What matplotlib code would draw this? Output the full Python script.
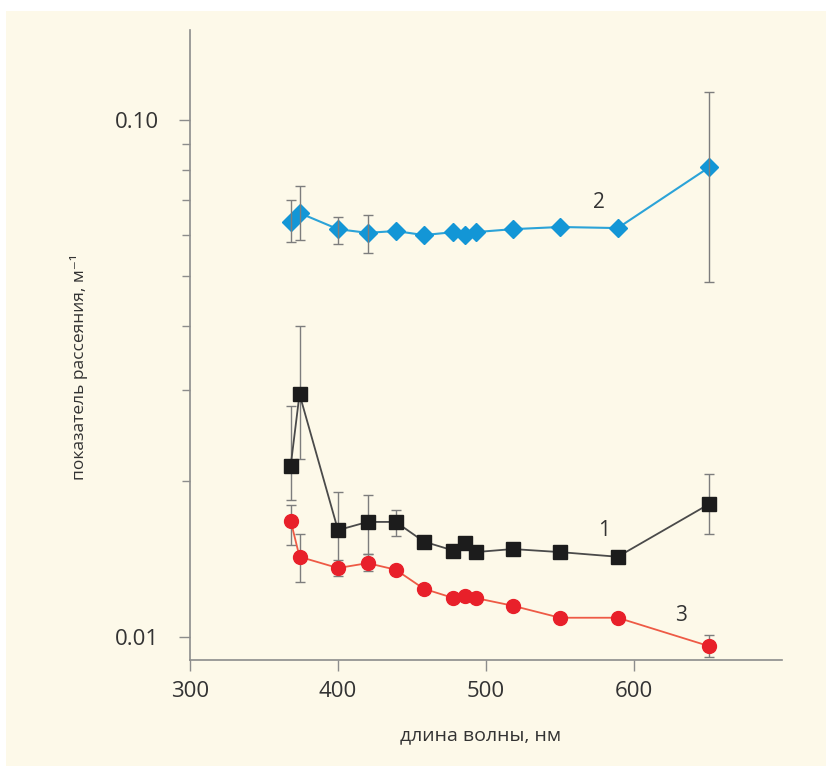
import matplotlib
matplotlib.use("Agg")
import matplotlib.pyplot as plt
import matplotlib.ticker as mticker
from matplotlib.patches import Rectangle
import numpy as np

# ── Data ──────────────────────────────────────────────────────────────────────
wavelength = [368, 374, 400, 420, 439, 458, 478, 486, 493, 518, 550, 589, 651]

# curve 1 (black squares)
s1 = [0.0214, 0.0295, 0.0161, 0.0167, 0.0167, 0.0153, 0.0147, 0.0152, 0.0146,
      0.0148, 0.0146, 0.0143, 0.0181]
# curve 2 (blue diamonds)
s2 = [0.0635, 0.0661, 0.0615, 0.0605, 0.0610, 0.0599, 0.0607, 0.0599, 0.0607,
      0.0615, 0.0621, 0.0618, 0.0811]
# curve 3 (red circles)
s3 = [0.0168, 0.0143, 0.0136, 0.0139, 0.0135, 0.0124, 0.0119, 0.0120, 0.0119,
      0.0115, 0.0109, 0.0109, 0.0096]

# error bars: index of point, lower bound, upper bound
e1_idx = [0, 1, 2, 3, 4, 12]
e1_lo = [0.0184, 0.0221, 0.0135, 0.0145, 0.0157, 0.0158]
e1_hi = [0.0280, 0.0400, 0.0191, 0.0188, 0.0176, 0.0207]

e2_idx = [0, 1, 2, 3, 12]
e2_lo = [0.0581, 0.0586, 0.0576, 0.0553, 0.0486]
e2_hi = [0.0700, 0.0745, 0.0649, 0.0655, 0.1133]

e3_idx = [0, 1, 2, 3, 12]
e3_lo = [0.0151, 0.0128, 0.0131, 0.0134, 0.00915]
e3_hi = [0.0180, 0.0158, 0.0141, 0.0145, 0.0101]

x_ticks = [300, 400, 500, 600]
y_ticks = [0.01, 0.10]
y_tick_labels = ["0.01", "0.10"]

# ── Style ─────────────────────────────────────────────────────────────────────
plt.rcParams["font.family"] = ["Open Sans", "DejaVu Sans"]
CREAM = "#fdf9e9"
AXIS = "#8c8c8c"
TEXT = "#333333"
ERR = "#7d7d7d"

W, H = 826, 766
fig = plt.figure(figsize=(W / 100, H / 100), dpi=100, facecolor="white")
fig.patches.append(Rectangle((6 / W, 0), 1, 1 - 11 / H, transform=fig.transFigure,
                             facecolor=CREAM, edgecolor="none", zorder=-10))

ax = fig.add_axes([190 / W, 106 / H, 592 / W, 630 / H])
ax.set_facecolor("none")


def draw_err(idx, lo, hi, vals, z):
    xs = [wavelength[i] for i in idx]
    ys = np.array([vals[i] for i in idx])
    yerr = [ys - np.array(lo), np.array(hi) - ys]
    ax.errorbar(xs, ys, yerr=yerr, fmt="none", ecolor=ERR, elinewidth=1.0,
                capsize=3.5, capthick=1.0, zorder=z)


draw_err(e1_idx, e1_lo, e1_hi, s1, 2)
draw_err(e3_idx, e3_lo, e3_hi, s3, 2)
draw_err(e2_idx, e2_lo, e2_hi, s2, 6)

ax.plot(wavelength, s1, color="#4a4a4a", lw=1.3, zorder=3)
ax.plot(wavelength, s1, ls="none", marker="s", ms=9.5, mfc="#1c1c1c",
        mec="#1c1c1c", zorder=4)
ax.plot(wavelength, s3, color="#ee5a45", lw=1.3, zorder=3)
ax.plot(wavelength, s3, ls="none", marker="o", ms=10, mfc="#e8202a",
        mec="#e8202a", zorder=4)
ax.plot(wavelength, s2, color="#2ba3d8", lw=1.5, zorder=3)
ax.plot(wavelength, s2, ls="none", marker="D", ms=9, mfc="#1396d6",
        mec="#1396d6", zorder=5)

ax.text(580, 0.0161, "1", fontsize=15, color=TEXT, ha="center", va="center")
ax.text(576, 0.0694, "2", fontsize=15, color=TEXT, ha="center", va="center")
ax.text(632, 0.0110, "3", fontsize=15, color=TEXT, ha="center", va="center")

ax.set_yscale("log")
ax.set_xlim(300, 700)
ax.set_ylim(0.00903, 0.1493)

ax.set_xticks(x_ticks)
ax.set_yticks(y_ticks)
ax.set_yticklabels(y_tick_labels)
ax.yaxis.set_minor_locator(mticker.LogLocator(base=10, subs=np.arange(2, 10)))
ax.yaxis.set_minor_formatter(mticker.NullFormatter())

for side in ["top", "right"]:
    ax.spines[side].set_visible(False)
for side in ["left", "bottom"]:
    ax.spines[side].set_color(AXIS)
    ax.spines[side].set_linewidth(1.2)

ax.tick_params(which="major", direction="out", length=8, width=1.0, color=AXIS,
               labelsize=16, labelcolor=TEXT)
ax.tick_params(which="minor", direction="out", length=6, width=1.0, color=AXIS)
ax.tick_params(axis="x", which="major", pad=7)
ax.tick_params(axis="y", which="major", pad=14)

ax.set_xlabel("длина волны, нм", fontsize=14, color=TEXT)
ax.set_ylabel("показатель рассеяния, м⁻¹", fontsize=12.5, color=TEXT)
ax.xaxis.set_label_coords(0.49, -0.105)
ax.yaxis.set_label_coords(-0.172, 0.465)

fig.savefig("out.png", dpi=100, facecolor="white")
